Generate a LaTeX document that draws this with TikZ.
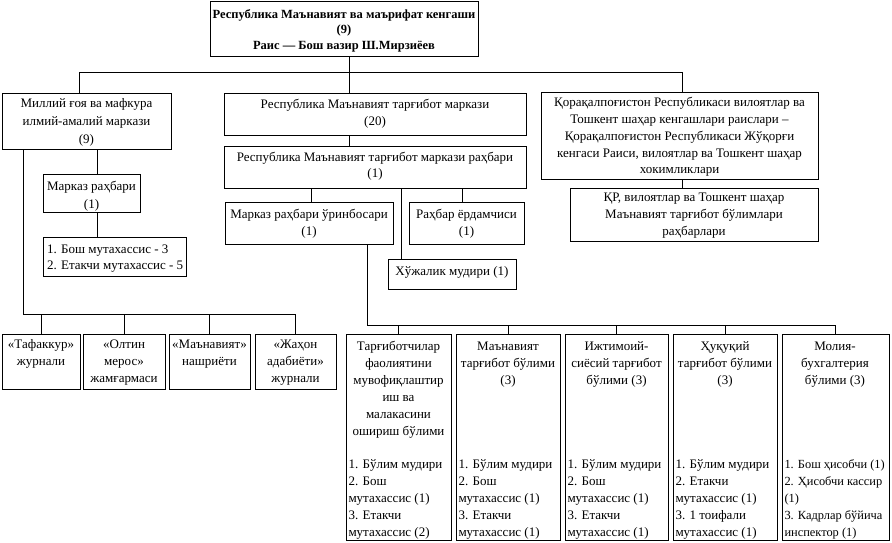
\documentclass[tikz,border=0pt]{standalone}
\usepackage{fontspec}
\setmainfont{Liberation Serif}
\tikzset{
  box/.style={draw, line width=1pt, inner sep=0pt, outer sep=0pt},
  conn/.style={line width=1pt},
  tx/.style={inner sep=0pt, outer sep=0pt, anchor=north, align=center, font=\fontsize{13}{17}\selectfont},
  lx/.style={inner sep=0pt, outer sep=0pt, anchor=north west, align=left, font=\fontsize{13}{17}\selectfont},
}
\newcommand\mkbox[5]{\node[box, minimum width={(#4)-(#2)}, minimum height={(#5)-(#3)}] (#1) at ({((#2)+(#4))/2},{((#3)+(#5))/2}) {};}
\begin{document}
\begin{tikzpicture}[x=1pt,y=-1pt]
\useasboundingbox (0,0) rectangle (892,542);
% boxes
\mkbox{top}{210}{1}{478}{56}
\mkbox{L}{2}{93}{171}{149}
\mkbox{Lb}{43}{174}{140}{212}
\mkbox{Lc}{43}{237}{186}{276}
\mkbox{A}{224}{93}{526}{135}
\mkbox{B}{224}{146}{526}{188}
\mkbox{C}{225}{202}{393}{244}
\mkbox{D}{409}{202}{524}{244}
\mkbox{E}{388}{259}{516}{289}
\mkbox{Ra}{541}{92}{818}{179}
\mkbox{Rb}{570}{188}{818}{241}
\mkbox{P1}{2}{334}{80}{389}
\mkbox{P2}{83}{334}{165}{389}
\mkbox{P3}{169}{334}{250}{389}
\mkbox{P4}{255}{334}{336}{389}
\mkbox{Q1}{346}{334}{451}{540}
\mkbox{Q2}{456}{334}{560}{540}
\mkbox{Q3}{565}{334}{668}{540}
\mkbox{Q4}{673}{334}{777}{540}
\mkbox{Q5}{782}{334}{889}{540}
% texts
\node[tx, font=\bfseries\fontsize{12.5}{15.5}\selectfont] (topt) at (344,7.6) {\strut Республика Маънавият ва маърифат кенгаши\\(9)\\Раис — Бош вазир Ш.Мирзиёев};
\node[tx, font=\fontsize{13}{18}\selectfont] (Lt) at (86.5,94.4) {\strut Миллий ғоя ва мафкура\\илмий-амалий маркази\\(9)};
\node[tx, font=\fontsize{13}{18}\selectfont] (Lbt) at (91.5,177.4) {\strut Марказ раҳбари\\(1)};
\node[lx, font=\fontsize{13}{16}\selectfont] (Lct) at (47,241.8) {\strut 1. Бош мутахассис - 3\\2. Етакчи мутахассис - 5};
\node[tx] (At) at (375,97) {\strut Республика Маънавият тарғибот маркази\\(20)};
\node[tx, font=\fontsize{13}{16}\selectfont] (Bt) at (375,149.8) {\strut Республика Маънавият тарғибот маркази раҳбари\\(1)};
\node[tx] (Ct) at (309,207) {\strut Марказ раҳбари ўринбосари\\(1)};
\node[tx] (Dt) at (466.5,207) {\strut Раҳбар ёрдамчиси\\(1)};
\node[tx] (Et) at (452,264) {\strut Хўжалик мудири (1)};
\node[tx, font=\fontsize{13}{16.7}\selectfont] (Rat) at (679.5,95.3) {\strut Қорақалпоғистон Республикаси вилоятлар ва\\Тошкент шаҳар кенгашлари раислари –\\Қорақалпоғистон Республикаси Жўқорғи\\кенгаси Раиси, вилоятлар ва Тошкент шаҳар\\хокимликлари};
\node[tx] (Rbt) at (694,190) {\strut ҚР, вилоятлар ва Тошкент шаҳар\\Маънавият тарғибот бўлимлари\\раҳбарлари};
\node[tx] (P1t) at (41,337) {\strut «Тафаккур»\\журнали};
\node[tx] (P2t) at (124,337) {\strut «Олтин\\мерос»\\жамғармаси};
\node[tx] (P3t) at (209.5,337) {\strut «Маънавият»\\нашриёти};
\node[tx] (P4t) at (295.5,337) {\strut «Жаҳон\\адабиёти»\\журнали};
\node[tx] (Q1t) at (398.5,339) {\strut Тарғиботчилар\\фаолиятини\\мувофиқлаштир\\иш ва\\малакасини\\ошириш бўлими};
\node[tx] (Q2t) at (508,339) {\strut Маънавият\\тарғибот бўлими\\(3)};
\node[tx] (Q3t) at (616.5,339) {\strut Ижтимоий-\\сиёсий тарғибот\\бўлими (3)};
\node[tx] (Q4t) at (725,339) {\strut Ҳуқуқий\\тарғибот бўлими\\(3)};
\node[tx] (Q5t) at (835,339) {\strut Молия-\\бухгалтерия\\бўлими (3)};
\node[lx] (Q1l) at (348.5,457) {\strut 1. Бўлим мудири\\2. Бош\\мутахассис (1)\\3. Етакчи\\мутахассис (2)};
\node[lx] (Q2l) at (458.5,457) {\strut 1. Бўлим мудири\\2. Бош\\мутахассис (1)\\3. Етакчи\\мутахассис (1)};
\node[lx] (Q3l) at (567.5,457) {\strut 1. Бўлим мудири\\2. Бош\\мутахассис (1)\\3. Етакчи\\мутахассис (1)};
\node[lx] (Q4l) at (675.5,457) {\strut 1. Бўлим мудири\\2. Етакчи\\мутахассис (1)\\3. 1 тоифали\\мутахассис (1)};
\node[lx, font=\fontsize{12.4}{17}\selectfont] (Q5l) at (784.5,457) {\strut 1. Бош ҳисобчи (1)\\2. Ҳисобчи кассир\\(1)\\3. Кадрлар бўйича\\инспектор (1)};
% connectors
\coordinate (j0) at (349,72);
\coordinate (jL) at (79,72);
\coordinate (jR) at (682,72);
\draw[conn] (j0 |- top.south) -- (j0);
\draw[conn] (jL |- L.north) -- (jL) -- (jR) -- (jR |- Ra.north);
\draw[conn] (j0) -- (j0 |- A.north);
\draw[conn] (j0 |- A.south) -- (j0 |- B.north);
\draw[conn] (jR |- Ra.south) -- (jR |- Rb.north);
\coordinate (xL) at (97,0);
\draw[conn] (xL |- L.south) -- (xL |- Lb.north);
\draw[conn] (xL |- Lb.south) -- (xL |- Lc.north);
\coordinate (k) at (23,314);
\draw[conn] (k |- L.south) -- (k) -| (P4.north);
\foreach \p in {P1,P2,P3} \draw[conn] (\p.north |- k) -- (\p.north);
\coordinate (xC) at (311,0);
\coordinate (xE) at (401,0);
\coordinate (xD) at (462,0);
\draw[conn] (xC |- B.south) -- (xC |- C.north);
\draw[conn] (xE |- B.south) -- (xE |- E.north);
\draw[conn] (xD |- B.south) -- (xD |- D.north);
\coordinate (m) at (367,325);
\draw[conn] (m |- C.south) -- (m) -| (Q5.north);
\foreach \q in {Q1,Q2,Q3,Q4} \draw[conn] (\q.north |- m) -- (\q.north);
\end{tikzpicture}
\end{document}
